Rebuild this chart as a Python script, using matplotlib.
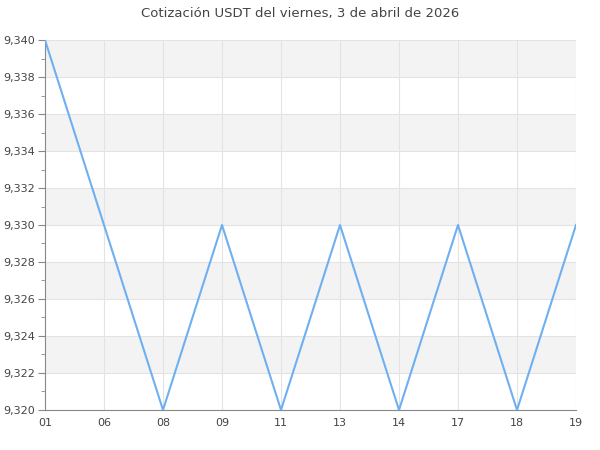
import matplotlib
matplotlib.use("Agg")
import matplotlib.pyplot as plt
from matplotlib.ticker import FuncFormatter, MultipleLocator

labels = ["01", "06", "08", "09", "11", "13", "14", "17", "18", "19"]
values = [9.340, 9.330, 9.320, 9.330, 9.320, 9.330, 9.320, 9.330, 9.320, 9.330]
title = "Cotización USDT del viernes, 3 de abril de 2026"

fig = plt.figure(figsize=(6, 4.5), dpi=100)
ax = fig.add_axes([0.075, 0.0889, 0.885, 0.8222])

ymin, ymax, step = 9.320, 9.340, 0.002
ax.set_ylim(ymin, ymax)
ax.set_xlim(0, len(labels) - 1)

# alternating bands
n = int(round((ymax - ymin) / step))
for i in range(n):
    if (n - 1 - i) % 2 == 0:
        ax.axhspan(ymin + i * step, ymin + (i + 1) * step, color="#f3f3f3", zorder=0, lw=0)

x = list(range(len(labels)))
ax.plot(x, values, color="#6eb0f0", lw=1.5, zorder=3)

ax.set_xticks(x)
ax.set_xticklabels(labels)
ax.yaxis.set_major_locator(MultipleLocator(step))
ax.yaxis.set_minor_locator(MultipleLocator(step / 2))
ax.yaxis.set_major_formatter(FuncFormatter(lambda v, p: f"{v:.3f}".replace(".", ",")))

ax.grid(True, which="major", color="#e3e3e3", lw=0.8, zorder=1)
ax.set_axisbelow(True)

for s in ["top", "right"]:
    ax.spines[s].set_visible(False)
ax.spines["left"].set_color("#888888")
ax.spines["bottom"].set_color("#888888")
ax.spines["left"].set_linewidth(0.8)
ax.spines["bottom"].set_linewidth(0.8)

ax.tick_params(axis="x", length=0, pad=6, labelsize=8, labelcolor="#444444")
ax.tick_params(axis="y", which="major", length=5, color="#888888", labelsize=8, labelcolor="#444444", pad=2)
ax.tick_params(axis="y", which="minor", length=3, color="#888888")

fig.suptitle(title, y=0.985, fontsize=9.5, color="#444444")

fig.savefig("out.png", dpi=100)
